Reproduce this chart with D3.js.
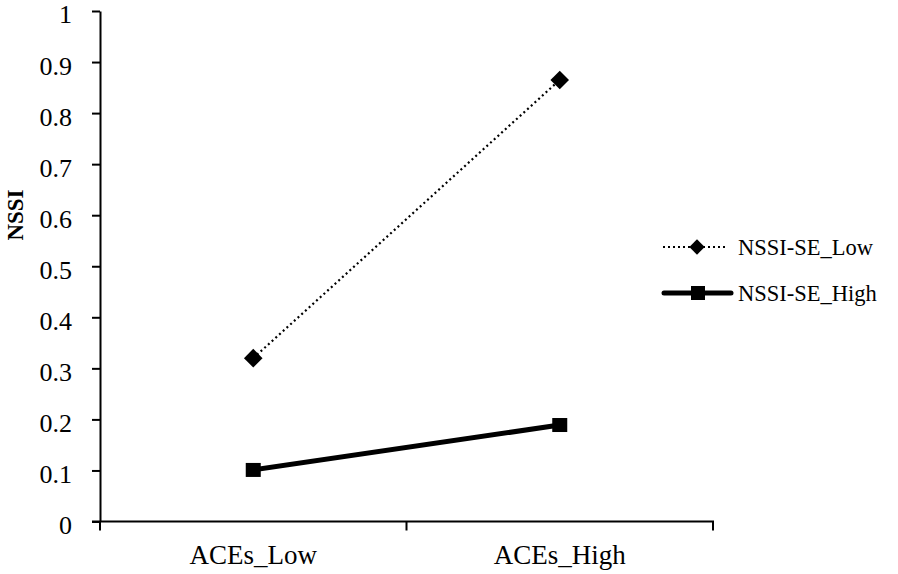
<!DOCTYPE html>
<html><head><meta charset="utf-8">
<script src="https://cdn.jsdelivr.net/npm/d3@7"></script>
<style>
html,body{margin:0;padding:0;background:#fff;}
svg text{font-family:"Times New Roman","Liberation Serif",Tinos,serif;fill:#000;}
</style></head>
<body>
<svg id="c" width="898" height="574"></svg>
<script>
const categories = ["ACEs_Low", "ACEs_High"];
const seriesNames = ["NSSI-SE_Low", "NSSI-SE_High"];
const lowValues = [0.32, 0.865];
const highValues = [0.101, 0.189];
const yTicks = [0, 0.1, 0.2, 0.3, 0.4, 0.5, 0.6, 0.7, 0.8, 0.9, 1];
const yTickLabels = ["0", "0.1", "0.2", "0.3", "0.4", "0.5", "0.6", "0.7", "0.8", "0.9", "1"];

const FONT = '"Times New Roman","Liberation Serif",Tinos,serif';
const svg = d3.select("#c");
const x0 = 100, x1 = 713, yTop = 11, yBot = 521.5;
const x = d3.scaleBand().domain(categories).range([x0, x1]);
const y = d3.scaleLinear().domain([0, 1]).range([yBot, yTop]);

// y axis
const yAxis = svg.append("g").attr("transform", `translate(${x0},0)`)
  .call(d3.axisLeft(y).tickValues(yTicks).tickFormat((d, i) => yTickLabels[i]).tickSize(8).tickPadding(20).tickSizeOuter(0));
yAxis.attr("font-family", FONT);
yAxis.select(".domain").attr("stroke", "#000").attr("stroke-width", 2);
yAxis.selectAll(".tick line").attr("stroke", "#000").attr("stroke-width", 2);
yAxis.selectAll(".tick text").attr("font-size", 26).attr("dy", "0.46em").attr("font-family", FONT);

// x axis
const xAxisG = svg.append("g").attr("transform", `translate(0,${yBot})`);
xAxisG.append("line").attr("x1", x0 - 8).attr("x2", x1 + 1).attr("y1", 0).attr("y2", 0)
  .attr("stroke", "#000").attr("stroke-width", 2);
const bounds = [x0].concat(categories.map(c => x(c) + x.bandwidth()));
xAxisG.selectAll("line.tk").data(bounds).enter().append("line").attr("class", "tk")
  .attr("x1", d => d).attr("x2", d => d).attr("y1", 0).attr("y2", 9)
  .attr("stroke", "#000").attr("stroke-width", 2);
xAxisG.selectAll("text").data(categories).enter().append("text")
  .attr("x", d => x(d) + x.bandwidth() / 2).attr("y", 42)
  .attr("text-anchor", "middle").attr("font-size", 27).attr("font-family", FONT).text(d => d);

// y title
svg.append("text").attr("transform", "translate(23,215) rotate(-90)")
  .attr("text-anchor", "middle").attr("font-size", 23).attr("font-weight", "bold").attr("font-family", FONT).text("NSSI");

const cx = c => x(c) + x.bandwidth() / 2;
const line = d3.line().x((d, i) => cx(categories[i])).y(d => y(d));

// low series (dotted, diamonds)
svg.append("path").datum(lowValues).attr("d", line).attr("fill", "none")
  .attr("stroke", "#000").attr("stroke-width", 2.2).attr("stroke-dasharray", "2,3");
const diamond = d3.symbol().type(d3.symbolDiamond2).size(220);
svg.selectAll("path.dm").data(lowValues).enter().append("path").attr("class", "dm")
  .attr("d", diamond).attr("transform", (d, i) => `translate(${cx(categories[i])},${y(d)})`)
  .attr("fill", "#000");

// high series (thick, squares)
svg.append("path").datum(highValues).attr("d", line).attr("fill", "none")
  .attr("stroke", "#000").attr("stroke-width", 5);
svg.selectAll("rect.sq").data(highValues).enter().append("rect").attr("class", "sq")
  .attr("x", (d, i) => cx(categories[i]) - 7.5).attr("y", d => y(d) - 7)
  .attr("width", 15).attr("height", 14).attr("fill", "#000");

// legend
const lg = svg.append("g");
const legendY = [247, 293];
lg.append("line").attr("x1", 663).attr("x2", 728).attr("y1", legendY[0]).attr("y2", legendY[0])
  .attr("stroke", "#000").attr("stroke-width", 2.2).attr("stroke-dasharray", "2,3");
lg.append("path").attr("d", d3.symbol().type(d3.symbolDiamond2).size(150))
  .attr("transform", `translate(697,${legendY[0]})`).attr("fill", "#000");
lg.append("text").attr("x", 738).attr("y", legendY[0]).attr("dy", "0.35em").attr("font-size", 22.5).attr("font-family", FONT).text(seriesNames[0]);
lg.append("line").attr("x1", 664).attr("x2", 731).attr("y1", legendY[1]).attr("y2", legendY[1])
  .attr("stroke", "#000").attr("stroke-width", 5).attr("stroke-linecap", "round");
lg.append("rect").attr("x", 691).attr("y", legendY[1] - 7).attr("width", 14).attr("height", 14).attr("fill", "#000");
lg.append("text").attr("x", 738).attr("y", legendY[1]).attr("dy", "0.35em").attr("font-size", 22.5).attr("font-family", FONT).text(seriesNames[1]);
</script>
</body></html>
